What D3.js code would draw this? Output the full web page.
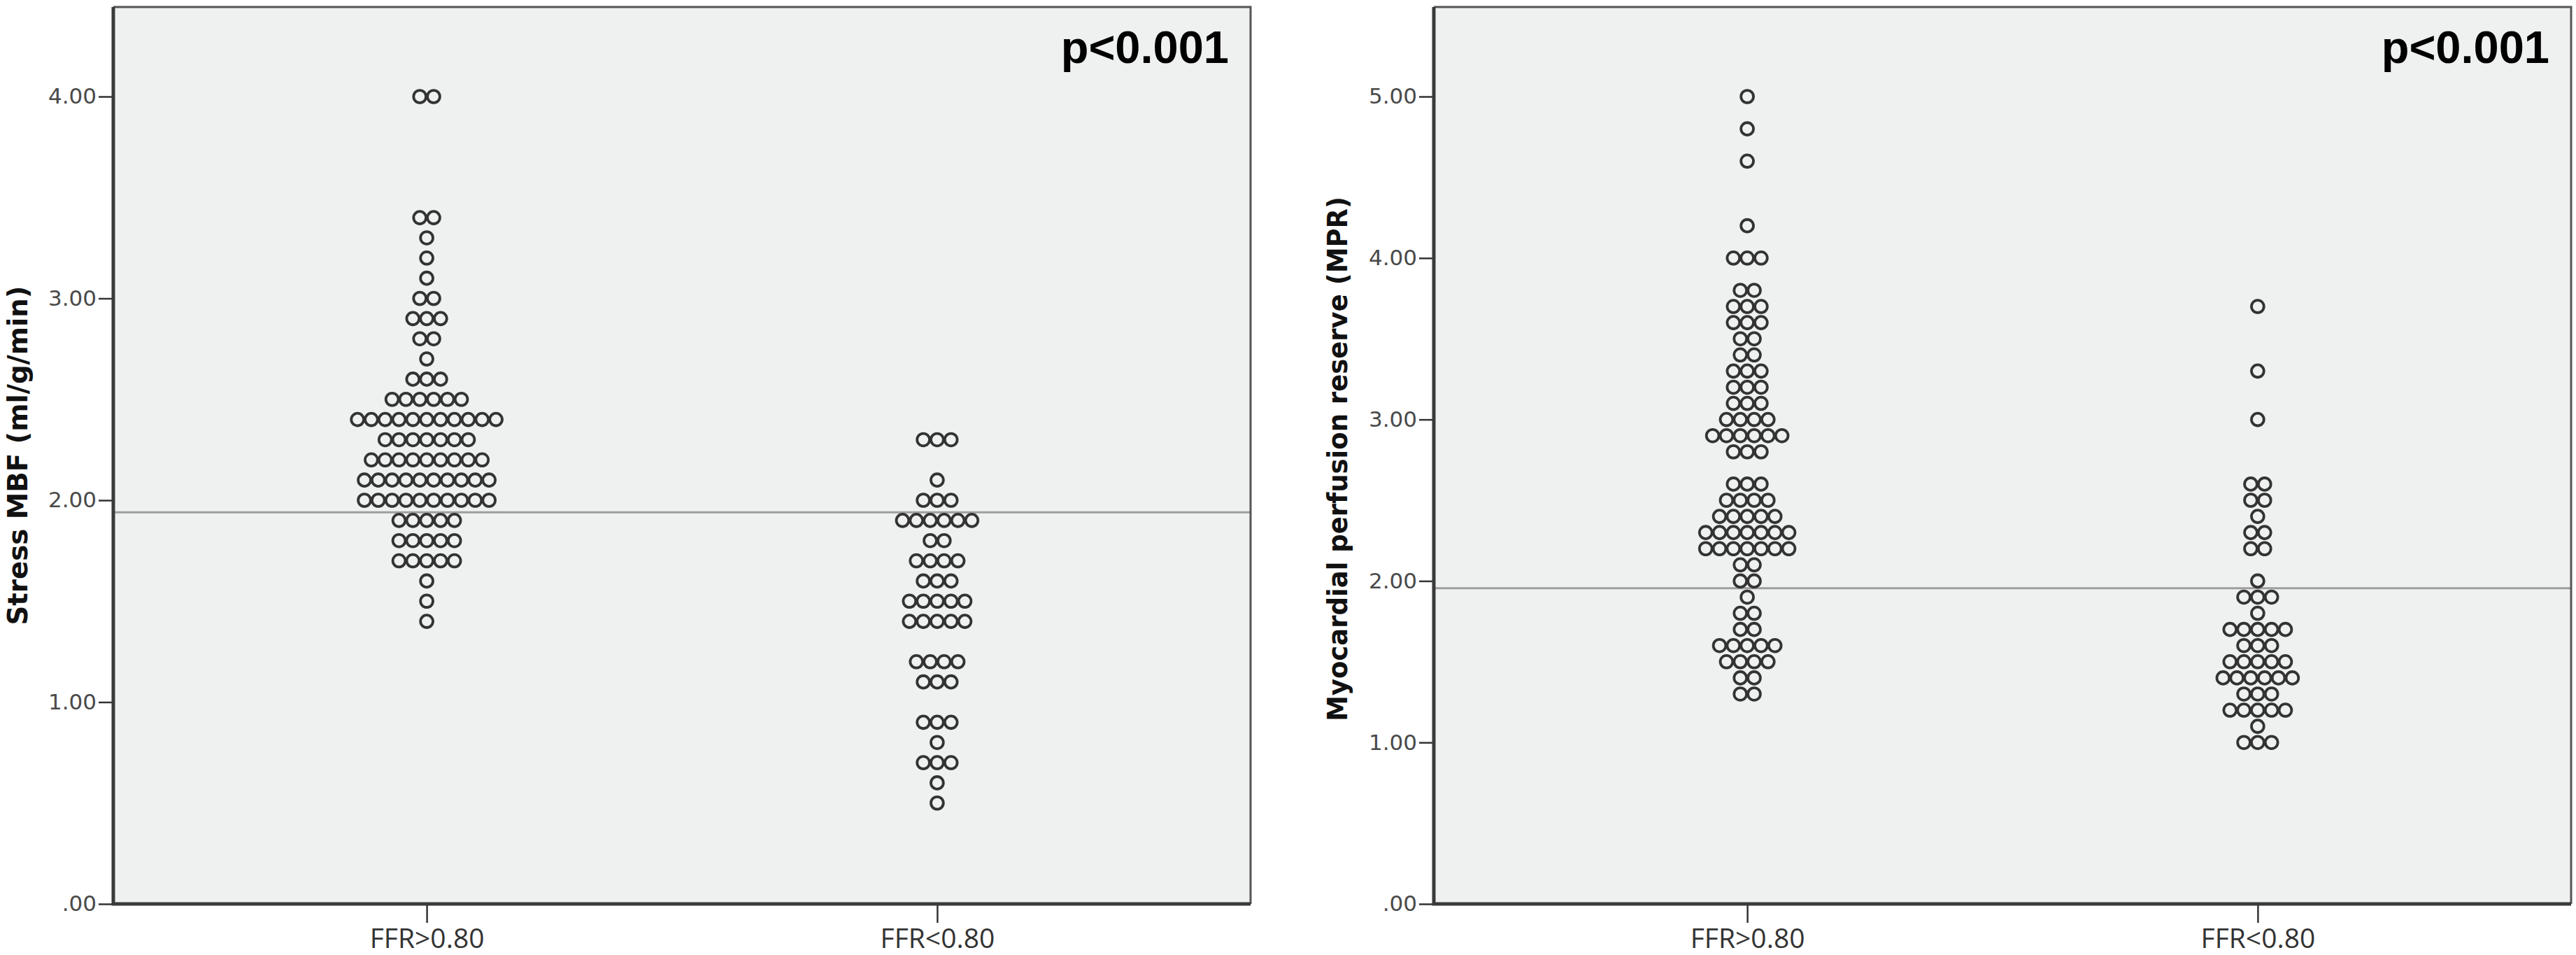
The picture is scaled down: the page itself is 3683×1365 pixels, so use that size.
<!DOCTYPE html>
<html>
<head>
<meta charset="utf-8">
<script src="https://cdn.jsdelivr.net/npm/d3@7"></script>
<style>
  html, body { margin: 0; padding: 0; background: #ffffff; }
  svg { display: block; }
</style>
</head>
<body>
<script>
// ---------------- DATA ----------------
const categories = ["FFR>0.80", "FFR<0.80"];

// Stress MBF (ml/g/min) — value rows and number of dots per row
const mbfHighValues = [4.0, 3.4, 3.3, 3.2, 3.1, 3.0, 2.9, 2.8, 2.7, 2.6, 2.5, 2.4, 2.3, 2.2, 2.1, 2.0, 1.9, 1.8, 1.7, 1.6, 1.5, 1.4];
const mbfHighCounts = [2,   2,   1,   1,   1,   2,   3,   2,   1,   3,   6,   11,  7,   9,   10,  10,  5,   5,   5,   1,   1,   1];
const mbfLowValues  = [2.3, 2.1, 2.0, 1.9, 1.8, 1.7, 1.6, 1.5, 1.4, 1.2, 1.1, 0.9, 0.8, 0.7, 0.6, 0.5];
const mbfLowCounts  = [3,   1,   3,   6,   2,   4,   3,   5,   5,   4,   3,   3,   1,   3,   1,   1];

// Myocardial perfusion reserve (MPR)
const mprHighValues = [5.0, 4.8, 4.6, 4.2, 4.0, 3.8, 3.7, 3.6, 3.5, 3.4, 3.3, 3.2, 3.1, 3.0, 2.9, 2.8, 2.6, 2.5, 2.4, 2.3, 2.2, 2.1, 2.0, 1.9, 1.8, 1.7, 1.6, 1.5, 1.4, 1.3];
const mprHighCounts = [1,   1,   1,   1,   3,   2,   3,   3,   2,   2,   3,   3,   3,   4,   6,   3,   3,   4,   5,   7,   7,   2,   2,   1,   2,   2,   5,   4,   2,   2];
const mprLowValues  = [3.7, 3.3, 3.0, 2.6, 2.5, 2.4, 2.3, 2.2, 2.0, 1.9, 1.8, 1.7, 1.6, 1.5, 1.4, 1.3, 1.2, 1.1, 1.0];
const mprLowCounts  = [1,   1,   1,   2,   2,   1,   2,   2,   1,   3,   1,   5,   3,   5,   6,   3,   5,   1,   3];

const mbfTickValues = [0, 1, 2, 3, 4];
const mbfTickLabels = [".00", "1.00", "2.00", "3.00", "4.00"];
const mprTickValues = [0, 1, 2, 3, 4, 5];
const mprTickLabels = [".00", "1.00", "2.00", "3.00", "4.00", "5.00"];

const mbfCutoff = 1.94;
const mprCutoff = 1.955;

const pText = "p<0.001";
const mbfTitle = "Stress MBF (ml/g/min)";
const mprTitle = "Myocardial perfusion reserve (MPR)";

// ---------------- DRAWING ----------------
const W = 3683, H = 1365;
const svg = d3.select("body").append("svg")
  .attr("width", W).attr("height", H)
  .attr("viewBox", `0 0 ${W} ${H}`);
svg.append("rect").attr("width", W).attr("height", H).attr("fill", "#ffffff");

const panels = [
  { left: 162, right: 1788, yMaxTick: 4, ticks: mbfTickValues, labels: mbfTickLabels,
    title: mbfTitle, titleX: 25, titleY: 651, titleLen: 485, cutoff: mbfCutoff,
    groups: [[mbfHighValues, mbfHighCounts], [mbfLowValues, mbfLowCounts]] },
  { left: 2050, right: 3676, yMaxTick: 5, ticks: mprTickValues, labels: mprTickLabels,
    title: mprTitle, titleX: 1912, titleY: 656, titleLen: 750, cutoff: mprCutoff,
    groups: [[mprHighValues, mprHighCounts], [mprLowValues, mprLowCounts]] }
];

const plotTop = 10, plotBottom = 1292;
const dotStep = 19.8, dotR = 8.9;

panels.forEach(p => {
  const g = svg.append("g");
  const y = d3.scaleLinear().domain([0, p.yMaxTick]).range([plotBottom, 138]);
  const x = d3.scalePoint().domain(categories).range([p.left, p.right]).padding(0.614);

  // plot background
  g.append("rect")
    .attr("x", p.left).attr("y", plotTop)
    .attr("width", p.right - p.left).attr("height", plotBottom - plotTop)
    .attr("fill", "#eef1f0");

  // cutoff line
  g.append("line")
    .attr("x1", p.left).attr("x2", p.right)
    .attr("y1", y(p.cutoff)).attr("y2", y(p.cutoff))
    .attr("stroke", "#9e9e9e").attr("stroke-width", 3);

  // dots
  p.groups.forEach((grp, gi) => {
    const [vals, counts] = grp;
    const pts = [];
    vals.forEach((v, i) => {
      const n = counts[i];
      for (let k = 0; k < n; k++) pts.push({ v, off: (k - (n - 1) / 2) });
    });
    g.selectAll(null).data(pts).enter().append("circle")
      .attr("cx", d => x(categories[gi]) + d.off * dotStep)
      .attr("cy", d => y(d.v))
      .attr("r", dotR)
      .attr("fill", "none")
      .attr("stroke", "#333")
      .attr("stroke-width", 3.8);
  });

  // top & right frame
  g.append("path")
    .attr("d", `M${p.left},${plotTop}H${p.right}V${plotBottom}`)
    .attr("fill", "none").attr("stroke", "#555").attr("stroke-width", 3);

  // y axis
  const ya = g.append("g").attr("transform", `translate(${p.left},0)`)
    .call(d3.axisLeft(y).tickValues(p.ticks).tickFormat((d, i) => p.labels[i])
      .tickSize(21).tickSizeOuter(0).tickPadding(3));
  ya.select(".domain").remove();
  ya.selectAll(".tick line").attr("stroke", "#333").attr("stroke-width", 2.5);
  ya.selectAll(".tick text")
    .attr("font-family", "'DejaVu Sans', sans-serif")
    .attr("font-size", 31).attr("fill", "#4a4a4a");

  // x axis
  const xa = g.append("g").attr("transform", `translate(0,${plotBottom})`)
    .call(d3.axisBottom(x).tickSize(27).tickSizeOuter(0).tickPadding(8));
  xa.select(".domain").remove();
  xa.selectAll(".tick line").attr("stroke", "#333").attr("stroke-width", 2.5);
  xa.selectAll(".tick text")
    .attr("font-family", "'Open Sans', sans-serif")
    .attr("font-size", 39).attr("fill", "#333");

  // thick left & bottom axis lines
  g.append("path")
    .attr("d", `M${p.left},${plotTop}V${plotBottom}H${p.right}`)
    .attr("fill", "none").attr("stroke", "#3a3a3a").attr("stroke-width", 5);

  // y title
  g.append("text")
    .attr("transform", `translate(${p.titleX},${p.titleY}) rotate(-90)`)
    .attr("text-anchor", "middle").attr("dominant-baseline", "central")
    .attr("font-family", "'DejaVu Sans', sans-serif").attr("font-weight", "bold")
    .attr("font-size", 39).attr("fill", "#111")
    .attr("textLength", p.titleLen).attr("lengthAdjust", "spacingAndGlyphs")
    .text(p.title);

  // p-value
  g.append("text")
    .attr("x", p.right - 31).attr("y", 90)
    .attr("text-anchor", "end")
    .attr("font-family", "'Liberation Sans', Arial, sans-serif").attr("font-weight", "bold")
    .attr("font-size", 65).attr("fill", "#000")
    .text(pText);
});
</script>
</body>
</html>
